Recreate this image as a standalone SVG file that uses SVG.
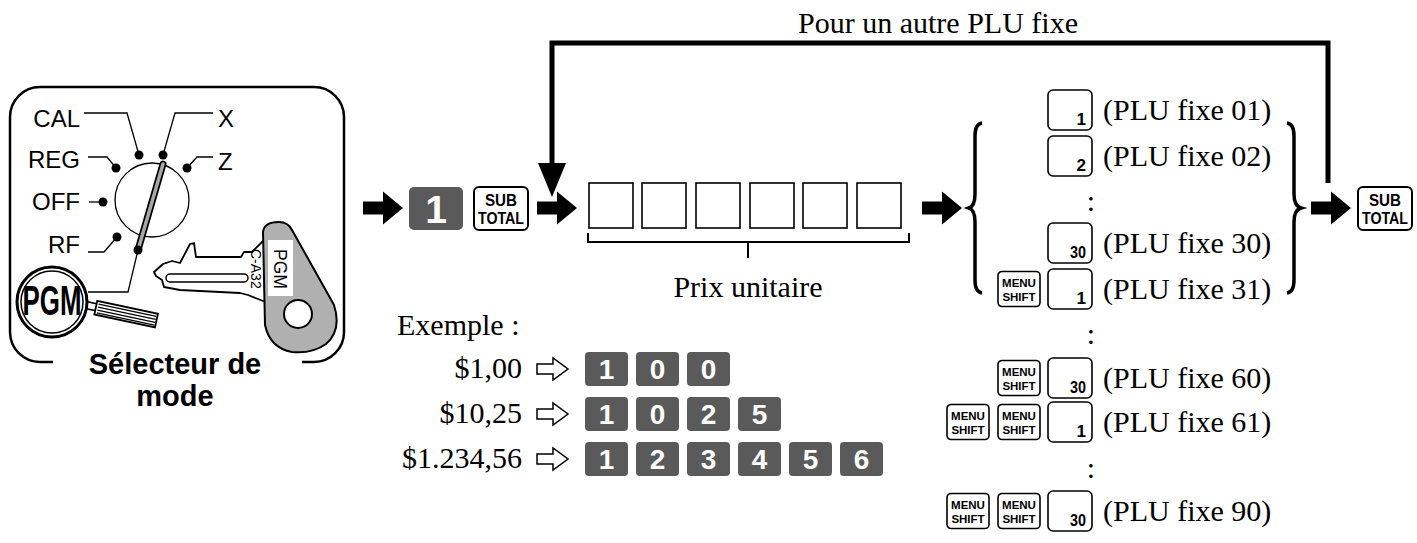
<svg xmlns="http://www.w3.org/2000/svg" width="1417" height="543" viewBox="0 0 1417 543">
<defs>
<style>
.serif{font-family:"Liberation Serif","Times New Roman",serif;font-size:30px;fill:#000}
.sans{font-family:"Liberation Sans",Arial,sans-serif;fill:#000}
.lbl{font-family:"Liberation Sans",Arial,sans-serif;font-size:24px;fill:#000}
.lead{fill:none;stroke:#000;stroke-width:1.3}
.dot{fill:#000}
.dk{fill:#5a5a5a}
.dkt{font-family:"Liberation Sans",Arial,sans-serif;font-weight:bold;fill:#fff;text-anchor:middle}
.wk{fill:#fff;stroke:#000;stroke-width:1.6}
.kt{font-family:"Liberation Sans",Arial,sans-serif;font-weight:bold;fill:#000;text-anchor:middle}
.num{font-family:"Liberation Sans",Arial,sans-serif;font-weight:bold;font-size:17px;fill:#000;text-anchor:end}
.box{fill:#fff;stroke:#000;stroke-width:1.6}
.thick{fill:none;stroke:#000;stroke-width:5}
.brace{fill:none;stroke:#000;stroke-width:3.5}
</style>
<path id="arr" d="M0,-6.5 H20 V-16.5 L40,0 L20,16.5 V6.5 H0 Z" fill="#000"/>
<path id="harr" d="M0,-5 H16 V-11 L31,0 L16,11 V5 H0 Z" fill="#fff" stroke="#000" stroke-width="1.5"/>
<g id="menu">
<rect x="0" y="0" width="42" height="35" rx="4" class="wk"/>
<text x="21" y="15.5" class="kt" font-size="11.5">MENU</text>
<text x="21" y="29" class="kt" font-size="11.5">SHIFT</text>
</g>
<g id="subtotal">
<rect x="0" y="0" width="54" height="43" rx="5" fill="#fff" stroke="#000" stroke-width="2"/>
<text x="27" y="19" class="kt" font-size="16" textLength="32" lengthAdjust="spacingAndGlyphs">SUB</text>
<text x="27" y="37" class="kt" font-size="16" textLength="46" lengthAdjust="spacingAndGlyphs">TOTAL</text>
</g>
<rect id="plukey" x="0" y="0" width="44" height="40" rx="5" class="wk"/>
<rect id="dkey" x="0" y="0" width="43" height="34" rx="4" class="dk"/>
</defs>

<rect width="1417" height="543" fill="#fff"/>

<!-- Mode selector -->
<g id="mode-selector">
<path d="M53,362 H40 A30 30 0 0 1 10,332 V117 A30 30 0 0 1 40,87 H314 A30 30 0 0 1 344,117 V332 A30 30 0 0 1 314,362 H302" fill="none" stroke="#000" stroke-width="2.5"/>
<text class="lbl" x="80" y="127" text-anchor="end">CAL</text>
<text class="lbl" x="80" y="168" text-anchor="end">REG</text>
<text class="lbl" x="80" y="210" text-anchor="end">OFF</text>
<text class="lbl" x="80" y="253" text-anchor="end">RF</text>
<text class="lbl" x="218" y="127">X</text>
<text class="lbl" x="218" y="170">Z</text>
<circle cx="152" cy="200" r="37" fill="none" stroke="#000" stroke-width="1.3"/>
<path class="lead" d="M84,113 H127 L139,155"/>
<path class="lead" d="M163,155 L175,113 H213"/>
<path class="lead" d="M88,157 H107 L116,168"/>
<path class="lead" d="M213,157 H197 L187,168"/>
<path class="lead" d="M89,202 H103"/>
<path class="lead" d="M88,252 H104 L117,237"/>
<path class="lead" d="M138,250 L128,292 H88"/>
<circle class="dot" cx="139" cy="155" r="4.5"/>
<circle class="dot" cx="163" cy="155" r="4.5"/>
<circle class="dot" cx="116" cy="168" r="4.5"/>
<circle class="dot" cx="187" cy="168" r="4.5"/>
<circle class="dot" cx="103" cy="202" r="4.5"/>
<circle class="dot" cx="117" cy="237" r="4.5"/>
<line x1="163" y1="164" x2="138" y2="250" stroke="#000" stroke-width="7" stroke-linecap="round"/>
<line x1="163" y1="164" x2="138" y2="250" stroke="#a8a8a8" stroke-width="3.5" stroke-linecap="round"/>
<circle class="dot" cx="138" cy="250" r="4.5"/>
<!-- magnifier -->
<g transform="rotate(12 88 306)">
<rect x="84" y="302" width="14" height="7" fill="#fff" stroke="#000" stroke-width="1.5"/>
<rect x="96" y="299" width="62" height="14" fill="#fff" stroke="#000" stroke-width="1.8"/>
<path d="M98,302 H157 M98,305 H157 M98,308 H157 M98,311 H157" stroke="#000" stroke-width="1.3"/>
</g>
<circle cx="52" cy="302" r="35" fill="#fff" stroke="#000" stroke-width="3"/>
<circle cx="52" cy="302" r="31" fill="none" stroke="#000" stroke-width="1.5"/>
<text class="sans" x="52" y="315" text-anchor="middle" font-weight="bold" font-size="42" textLength="59" lengthAdjust="spacingAndGlyphs">PGM</text>
<!-- key -->
<path d="M154,272 L163,264 L172,261 L180,263 L190,244 L194,243 L196,257 L241,257 L244,252 L252,252 L266,238 L268,303 L248,295 L240,293 L180,290 L164,287 L162,280 L156,276 Z" fill="#fff" stroke="#000" stroke-width="1.8" stroke-linejoin="round"/>
<rect x="166" y="274" width="82" height="8" rx="4" fill="#fff" stroke="#000" stroke-width="1.5"/>
<path d="M263,232 Q264,222 279,222 Q288,222 292,230 L334,305 Q342,330 326,344 Q312,354 292,352 Q270,348 265,325 Z" fill="#b0b0b0" stroke="#000" stroke-width="2"/>
<rect x="268" y="240" width="25" height="56" fill="#fff"/>
<circle cx="298" cy="314" r="14" fill="#fff" stroke="#000" stroke-width="2"/>
<text class="sans" transform="translate(274,249) rotate(90)" font-size="18" textLength="40" lengthAdjust="spacingAndGlyphs">PGM</text>
<text class="sans" transform="translate(251,249) rotate(90)" font-size="14">C-A32</text>
<text class="sans" x="175" y="374" text-anchor="middle" font-weight="bold" font-size="29">Sélecteur de</text>
<text class="sans" x="175" y="406" text-anchor="middle" font-weight="bold" font-size="29">mode</text>
</g>

<!-- Connectors -->
<g id="connectors">
<use href="#arr" x="363" y="208"/>
<use href="#arr" x="537" y="208"/>
<use href="#arr" x="922" y="208"/>
<use href="#arr" x="1311" y="208"/>
<polyline class="thick" points="1328,183 1328,43 552,43 552,166"/>
<polygon points="538,163 566,163 552,197" fill="#000"/>
<use href="#harr" x="537" y="369"/>
<use href="#harr" x="537" y="414"/>
<use href="#harr" x="537" y="459"/>
</g>

<text id="loop-label" class="serif" x="798" y="33">Pour un autre PLU fixe</text>

<!-- Start keys -->
<g id="key-1">
<rect x="409" y="187" width="54" height="43" rx="5" class="dk"/>
<text x="436" y="223" class="dkt" font-size="39">1</text>
</g>
<g id="key-subtotal-1"><use href="#subtotal" x="474" y="187"/></g>

<!-- Price boxes -->
<g id="price-entry">
<rect class="box" x="589" y="183" width="44" height="45"/>
<rect class="box" x="642" y="183" width="44" height="45"/>
<rect class="box" x="696" y="183" width="44" height="45"/>
<rect class="box" x="750" y="183" width="44" height="45"/>
<rect class="box" x="803" y="183" width="44" height="45"/>
<rect class="box" x="857" y="183" width="44" height="45"/>
<path d="M588,233 V242 H909 V233 M748,242 V258" fill="none" stroke="#000" stroke-width="2"/>
<text class="serif" x="748" y="297" text-anchor="middle">Prix unitaire</text>
</g>

<!-- Examples -->
<g id="examples">
<text class="serif" x="397" y="335">Exemple :</text>
<text class="serif" x="522" y="378" text-anchor="end">$1,00</text>
<text class="serif" x="522" y="423" text-anchor="end">$10,25</text>
<text class="serif" x="522" y="468" text-anchor="end">$1.234,56</text>
<g font-size="28">
<use href="#dkey" x="585" y="352"/><text class="dkt" x="606.5" y="379">1</text>
<use href="#dkey" x="636" y="352"/><text class="dkt" x="657.5" y="379">0</text>
<use href="#dkey" x="687" y="352"/><text class="dkt" x="708.5" y="379">0</text>
<use href="#dkey" x="585" y="397"/><text class="dkt" x="606.5" y="424">1</text>
<use href="#dkey" x="636" y="397"/><text class="dkt" x="657.5" y="424">0</text>
<use href="#dkey" x="687" y="397"/><text class="dkt" x="708.5" y="424">2</text>
<use href="#dkey" x="738" y="397"/><text class="dkt" x="759.5" y="424">5</text>
<use href="#dkey" x="585" y="442"/><text class="dkt" x="606.5" y="469">1</text>
<use href="#dkey" x="636" y="442"/><text class="dkt" x="657.5" y="469">2</text>
<use href="#dkey" x="687" y="442"/><text class="dkt" x="708.5" y="469">3</text>
<use href="#dkey" x="738" y="442"/><text class="dkt" x="759.5" y="469">4</text>
<use href="#dkey" x="789" y="442"/><text class="dkt" x="810.5" y="469">5</text>
<use href="#dkey" x="840" y="442"/><text class="dkt" x="861.5" y="469">6</text>
</g>
</g>

<!-- PLU list -->
<g id="plu-list">
<path class="brace" d="M982,123 Q975,124 975,136 V194 Q975,206 969,208 Q975,210 975,222 V280 Q975,292 982,293"/>
<path class="brace" d="M1287,123 Q1294,124 1294,136 V194 Q1294,206 1301,208 Q1294,210 1294,222 V280 Q1294,292 1287,293"/>
<g id="plu-01"><use href="#plukey" x="1048" y="90"/><text class="num" x="1086" y="125">1</text><text class="serif" x="1103" y="120">(PLU fixe 01)</text></g>
<g id="plu-02"><use href="#plukey" x="1048" y="136"/><text class="num" x="1086" y="171">2</text><text class="serif" x="1103" y="166">(PLU fixe 02)</text></g>
<text class="serif" x="1091" y="211" text-anchor="middle">:</text>
<g id="plu-30"><use href="#plukey" x="1048" y="223"/><text class="num" x="1086" y="258" textLength="16" lengthAdjust="spacingAndGlyphs">30</text><text class="serif" x="1103" y="253">(PLU fixe 30)</text></g>
<g id="plu-31"><use href="#menu" x="998" y="271.5"/><use href="#plukey" x="1048" y="269"/><text class="num" x="1086" y="304">1</text><text class="serif" x="1103" y="299">(PLU fixe 31)</text></g>
<text class="serif" x="1091" y="344" text-anchor="middle">:</text>
<g id="plu-60"><use href="#menu" x="998" y="360.5"/><use href="#plukey" x="1048" y="358"/><text class="num" x="1086" y="393" textLength="16" lengthAdjust="spacingAndGlyphs">30</text><text class="serif" x="1103" y="388">(PLU fixe 60)</text></g>
<g id="plu-61"><use href="#menu" x="947" y="404.5"/><use href="#menu" x="998" y="404.5"/><use href="#plukey" x="1048" y="402"/><text class="num" x="1086" y="437">1</text><text class="serif" x="1103" y="432">(PLU fixe 61)</text></g>
<text class="serif" x="1091" y="478" text-anchor="middle">:</text>
<g id="plu-90"><use href="#menu" x="947" y="493.5"/><use href="#menu" x="998" y="493.5"/><use href="#plukey" x="1048" y="491"/><text class="num" x="1086" y="526" textLength="16" lengthAdjust="spacingAndGlyphs">30</text><text class="serif" x="1103" y="521">(PLU fixe 90)</text></g>
</g>

<g id="key-subtotal-2"><use href="#subtotal" x="1358" y="187"/></g>
</svg>
